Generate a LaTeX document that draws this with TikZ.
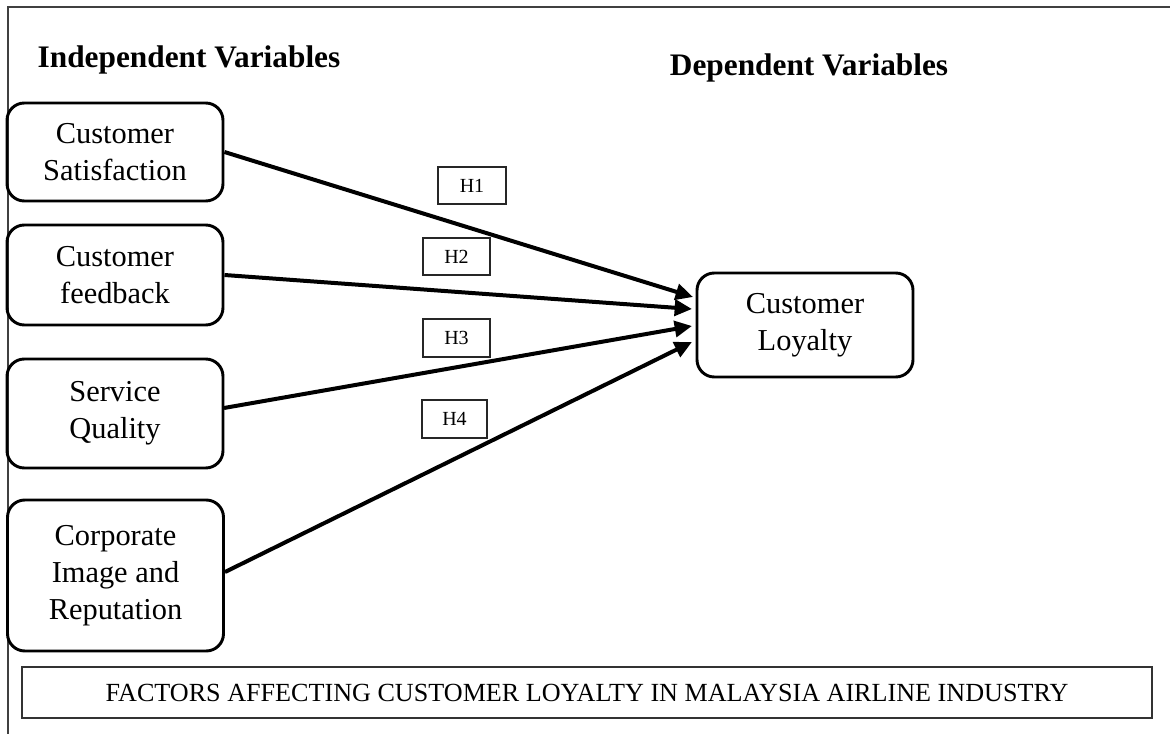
\documentclass[tikz,border=0pt]{standalone}
\usepackage{fontspec}
\setmainfont{Liberation Serif}
\usetikzlibrary{arrows.meta}
\begin{document}
\begin{tikzpicture}[x=0.75pt,y=-0.75pt,
  varbox/.style={draw=black, line width=2.2pt, rounded corners=13pt, align=center, inner sep=0pt,
    minimum width=162pt, font=\fontsize{22.8}{27.5}\selectfont},
  hbox/.style={draw=black!85, line width=1pt, inner sep=0pt, font=\fontsize{15}{18}\selectfont},
  link/.style={line width=3pt, -{Triangle[length=13pt,width=12pt]}},
  head/.style={font=\fontsize{23.5}{27}\selectfont\bfseries, inner sep=0pt},
  frameline/.style={draw=black!75, line width=1.1pt}]
\useasboundingbox (0,0) rectangle (1170,734);
\draw[frameline] (1170,7) -- (8,7) -- (8,734);
\node[head] (ind) at (189,60) {Independent Variables};
\node[head] (dep) at (809,68) {Dependent Variables};
\node[varbox, minimum height=73.5pt] (b1) at (115,152) {Customer\\Satisfaction};
\node[varbox, minimum height=75pt] (b2) at (115,275) {Customer\\feedback};
\node[varbox, minimum height=81.75pt] (b3) at (115,413.5) {Service\\Quality};
\node[varbox, minimum height=113.25pt] (b4) at (115.5,575.5) {Corporate\\Image and\\Reputation};
\node[varbox, minimum height=78pt] (cl) at (805,325) {Customer\\Loyalty};
\node[hbox, minimum width=51pt, minimum height=27.75pt] (h1) at (472,185.5) {H1};
\node[hbox, minimum width=50.25pt, minimum height=27.75pt] (h2) at (456.5,256.5) {H2};
\node[hbox, minimum width=50.25pt, minimum height=28.5pt] (h3) at (456.5,338) {H3};
\node[hbox, minimum width=48.75pt, minimum height=28.5pt] (h4) at (454.5,419) {H4};
\node[draw=black!80, line width=1.4pt, minimum width=847.5pt, minimum height=38.25pt, inner sep=0pt,
  font=\fontsize{19.6}{22}\selectfont] (title) at (587,692.5) {FACTORS AFFECTING CUSTOMER LOYALTY IN MALAYSIA AIRLINE INDUSTRY};
\coordinate (s3) at (224,408);
\coordinate (s4) at (225,572);
\coordinate (t1) at (693,297);
\coordinate (t2) at (692,309);
\coordinate (t3) at (692,326);
\coordinate (t4) at (692,342);
\draw[link] (b1.east) -- (t1);
\draw[link] (b2.east) -- (t2);
\draw[link] (s3) -- (t3);
\draw[link] (s4) -- (t4);
\end{tikzpicture}
\end{document}
